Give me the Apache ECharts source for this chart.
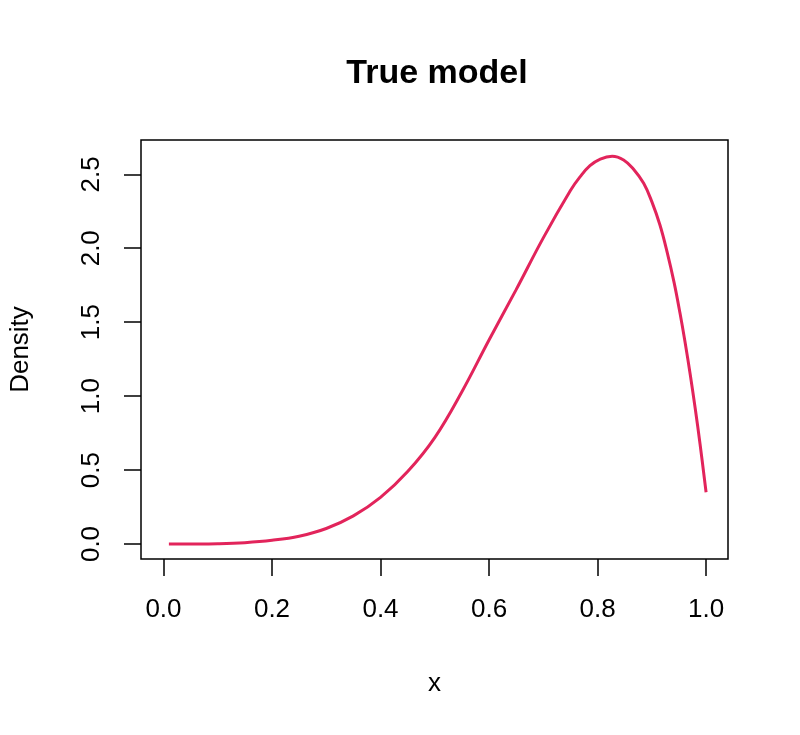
<!DOCTYPE html>
<html>
<head>
<meta charset="utf-8">
<script src="https://cdn.jsdelivr.net/npm/echarts@6/dist/echarts.min.js"></script>
<style>html,body{margin:0;padding:0;background:#fff}#c{width:800px;height:735px}</style>
</head>
<body>
<div id="c"></div>
<script>
const xValues = [0.01,0.05,0.10,0.15,0.20,0.25,0.30,0.35,0.40,0.45,0.50,0.55,0.60,0.65,0.70,0.75,0.768,0.786,0.805,0.827,0.848,0.866,0.885,0.900,0.915,0.928,0.941,0.952,0.961,0.971,0.980,0.989,1.0];
const density = [0,0.0003,0.002,0.009,0.025,0.053,0.105,0.19,0.315,0.49,0.72,1.03,1.38,1.72,2.07,2.39,2.484,2.558,2.603,2.622,2.597,2.536,2.439,2.315,2.157,1.977,1.769,1.560,1.371,1.141,0.916,0.673,0.35];
const xTicks = [0,0.2,0.4,0.6,0.8,1.0];
const yTicks = [0,0.5,1.0,1.5,2.0,2.5];

const font = 'Liberation Sans, Arial, Helvetica, sans-serif';
const chart = echarts.init(document.getElementById('c'), null, {renderer:'canvas'});
chart.setOption({
  animation:false,
  backgroundColor:'#fff',
  title:{text:'True model', left:432, top:52, textAlign:'center',
    textStyle:{fontFamily:font, fontSize:34, fontWeight:'bold', color:'#000'}},
  grid:{left:140, right:72, top:140, bottom:176, show:true, borderColor:'#000', borderWidth:1.5, backgroundColor:'#fff'},
  xAxis:{type:'value', min:-0.0414, max:1.0404,
    name:'x', nameLocation:'middle', nameGap:112,
    nameTextStyle:{fontFamily:font, fontSize:26, color:'#000'},
    axisLine:{show:false, onZero:false}, splitLine:{show:false},
    axisTick:{show:true, length:17, customValues:xTicks, lineStyle:{color:'#000', width:1.5}},
    axisLabel:{customValues:xTicks, margin:38, fontFamily:font, fontSize:26, color:'#000',
      formatter:v=>v.toFixed(1)}},
  yAxis:{type:'value', min:-0.1014, max:2.732,
    name:'Density', nameLocation:'middle', nameGap:107, nameRotate:90,
    nameTextStyle:{fontFamily:font, fontSize:26, color:'#000'},
    axisLine:{show:false, onZero:false}, splitLine:{show:false},
    axisTick:{show:true, length:17, customValues:yTicks, lineStyle:{color:'#000', width:1.5}},
    axisLabel:{customValues:yTicks, rotate:90, margin:36, fontFamily:font, fontSize:26, color:'#000',
      formatter:v=>v.toFixed(1)}},
  series:[{type:'line', data:xValues.map((x,i)=>[x,density[i]]), smooth:0.4, showSymbol:false,
    lineStyle:{color:'#E2245B', width:3}}]
});
</script>
</body>
</html>
